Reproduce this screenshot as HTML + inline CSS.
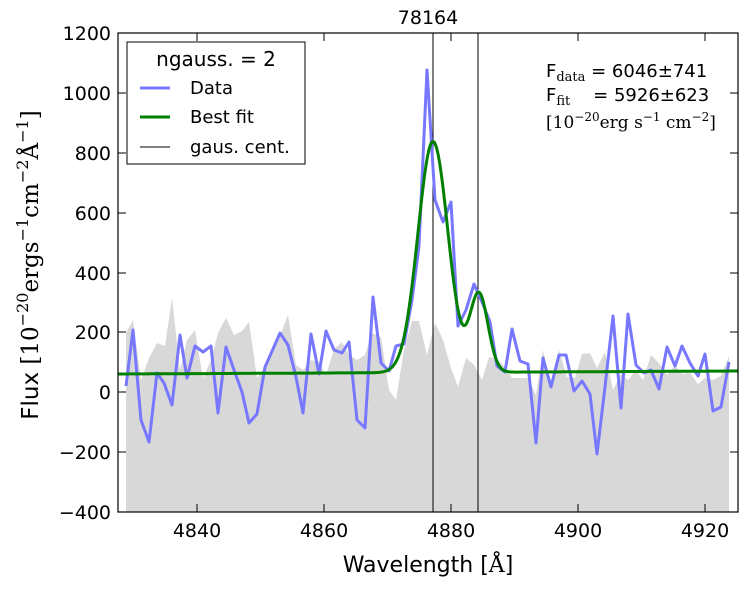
<!DOCTYPE html>
<html><head><meta charset="utf-8"><style>
html,body{margin:0;padding:0;background:#fff;}
svg{display:block;font-family:"DejaVu Sans","Liberation Sans",sans-serif;}
.serif{font-family:"DejaVu Serif","Liberation Serif",serif;}
</style></head><body>
<svg id="s" width="747" height="589" viewBox="0 0 747 589" xmlns="http://www.w3.org/2000/svg">
<rect width="747" height="589" fill="#fff"/>
<clipPath id="c"><rect x="118" y="33" width="620" height="479"/></clipPath>
<g clip-path="url(#c)">
<polygon id="gray" fill="#d8d8d8" points=""/>
<line x1="433" y1="33" x2="433" y2="512" stroke="#000" stroke-width="1"/>
<line x1="478" y1="33" x2="478" y2="512" stroke="#000" stroke-width="1"/>
<polyline id="data" fill="none" stroke="#7777ff" stroke-width="3" stroke-linejoin="round" points=""/>
<polyline id="fit" fill="none" stroke="#008000" stroke-width="3" points=""/>
</g>
<rect x="118" y="33" width="620" height="479" fill="none" stroke="#000" stroke-width="1.2"/>
<g id="ticks" stroke="#000" stroke-width="1"></g>
<g font-size="19" fill="#000">
<text x="111" y="40" text-anchor="end">1200</text>
<text x="111" y="100" text-anchor="end">1000</text>
<text x="111" y="160" text-anchor="end">800</text>
<text x="111" y="220" text-anchor="end">600</text>
<text x="111" y="280" text-anchor="end">400</text>
<text x="111" y="339" text-anchor="end">200</text>
<text x="111" y="399" text-anchor="end">0</text>
<text x="111" y="459" text-anchor="end">−200</text>
<text x="111" y="519" text-anchor="end">−400</text>
<text x="197" y="537" text-anchor="middle">4840</text>
<text x="324" y="537" text-anchor="middle">4860</text>
<text x="451" y="537" text-anchor="middle">4880</text>
<text x="578" y="537" text-anchor="middle">4900</text>
<text x="705" y="537" text-anchor="middle">4920</text>
<text x="428" y="24" text-anchor="middle">78164</text>
</g>
<text x="428" y="572" text-anchor="middle" font-size="22">Wavelength [<tspan class="serif">Å</tspan>]</text>
<text transform="translate(38,265) rotate(-90)" text-anchor="middle" font-size="23">Flux <tspan class="serif">[10<tspan font-size="16" dy="-10">−20</tspan><tspan dy="10">ergs</tspan><tspan font-size="16" dy="-10">−1</tspan><tspan dy="10">cm</tspan><tspan font-size="16" dy="-10">−2</tspan><tspan dy="10">Å</tspan><tspan font-size="16" dy="-10">−1</tspan><tspan dy="10">]</tspan></tspan></text>
<rect x="127" y="42" width="178" height="122" fill="#fff" stroke="#000" stroke-width="1"/>
<text x="216" y="66" text-anchor="middle" font-size="20">ngauss. = 2</text>
<line x1="140" y1="88" x2="170" y2="88" stroke="#7777ff" stroke-width="3"/>
<text x="190" y="94" font-size="18">Data</text>
<line x1="140" y1="117" x2="170" y2="117" stroke="#008000" stroke-width="3"/>
<text x="190" y="123" font-size="18">Best fit</text>
<line x1="140" y1="147" x2="170" y2="147" stroke="#000" stroke-width="1"/>
<text x="190" y="153" font-size="18">gaus. cent.</text>
<g font-size="18">
<text x="546" y="77">F<tspan class="serif" font-size="13" dy="4">data</tspan><tspan dy="-4" xml:space="preserve"> = 6046±741</tspan></text>
<text x="546" y="101">F<tspan class="serif" font-size="13" dy="4">fit</tspan><tspan dy="-4" xml:space="preserve">    = 5926±623</tspan></text>
<text x="546" y="128" class="serif" font-size="17">[10<tspan font-size="12" dy="-7">−20</tspan><tspan dy="7">erg s</tspan><tspan font-size="12" dy="-7">−1</tspan><tspan dy="7"> cm</tspan><tspan font-size="12" dy="-7">−2</tspan><tspan dy="7">]</tspan></text>
</g>
</svg>
<script>
var d=[126,386,133,330,141,420,149,442,157,373,164,383,172,405,180,335,187,378,195,346,203,352,211,346,218,413,226,347,234,370,242,392,249,423,257,414,265,367,273,349,280,333,288,345,296,377,303,413,311,334,319,374,326,331,334,350,342,353,349,342,357,420,365,428,373,297,381,363,389,371,396,346,404,344,412,300,419,246,427,70,435,200,443,222,451,202,458,326,466,310,474,284,482,302,490,322,497,366,505,372,512,329,520,361,528,364,536,443,543,358,551,387,559,355,566,355,574,391,582,381,590,394,597,454,605,387,613,316,621,408,628,314,636,365,644,373,651,370,659,389,667,347,675,366,682,346,690,363,698,376,705,354,713,411,721,407,729,362];
var p=[];for(var i=0;i<d.length;i+=2)p.push(d[i]+','+d[i+1]);
document.getElementById('data').setAttribute('points',p.join(' '));
var g=[126,333,133,320,141,380,149,358,157,343,165,346,172,298,180,370,187,340,195,330,203,378,211,360,218,333,226,318,234,335,242,331,249,322,257,378,265,367,273,346,280,336,288,315,296,365,303,370,311,360,319,362,326,375,334,349,342,342,349,355,357,360,365,355,372,333,381,337,389,390,396,400,404,350,412,321,419,321,427,355,435,323,443,340,451,368,458,387,466,358,474,365,482,380,489,357,497,359,505,367,512,378,520,378,528,378,536,395,543,350,551,384,559,350,567,377,575,378,582,354,590,353,597,368,605,352,613,390,621,374,628,380,636,370,643,380,651,355,659,363,667,375,675,365,682,374,690,373,698,384,705,378,713,380,721,376,729,356];
var q=['126,512'];for(i=0;i<g.length;i+=2)q.push(g[i]+','+g[i+1]);q.push('729,512');
document.getElementById('gray').setAttribute('points',q.join(' '));
var f=[];for(var x=118;x<=738;x+=1){var base=374-(x-118)/620*3;var y=base-231*Math.exp(-Math.pow((x-433)/15,2)/2)-78*Math.exp(-Math.pow((x-479)/9,2)/2);f.push(x+','+y.toFixed(1));}
document.getElementById('fit').setAttribute('points',f.join(' '));
var t=document.getElementById('ticks'),h='';
[33,93,153,213,273,332,392,452,512].forEach(function(y){h+='<line x1="118" y1="'+y+'" x2="126" y2="'+y+'"/><line x1="730" y1="'+y+'" x2="738" y2="'+y+'"/>';});
[197,324,451,578,705].forEach(function(x){h+='<line x1="'+x+'" y1="512" x2="'+x+'" y2="504"/><line x1="'+x+'" y1="33" x2="'+x+'" y2="41"/>';});
t.innerHTML=h;
</script>
</body></html>
